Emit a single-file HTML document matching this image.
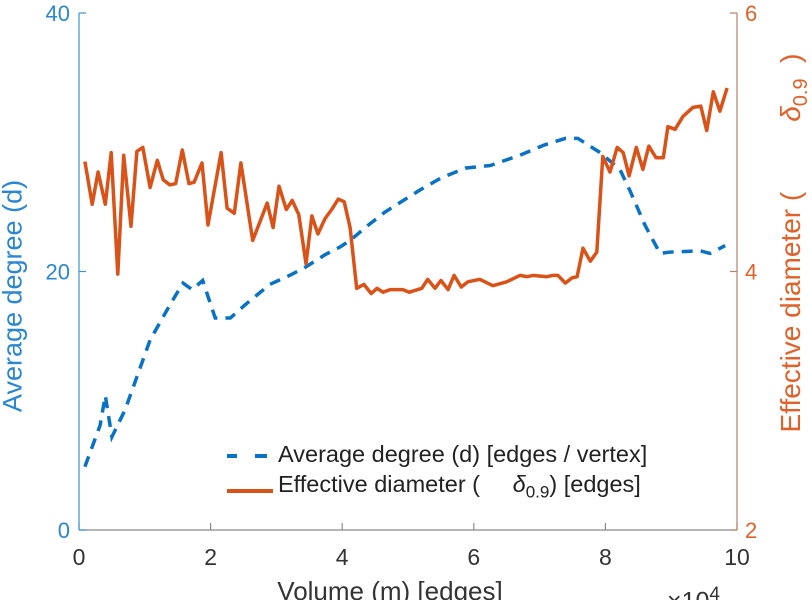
<!DOCTYPE html>
<html><head><meta charset="utf-8"><style>
body{margin:0;background:#fff;overflow:hidden;}
svg{display:block;font-family:"Liberation Sans",sans-serif;}
</style></head><body>
<svg id="chart" width="812" height="600"></svg>
<script>
const xTicks=[0,2,4,6,8,10];
const leftTicks=[0,20,40];
const rightTicks=[2,4,6];
const degX=[0.09,0.32,0.40,0.5,0.7,1.08,1.38,1.58,1.72,1.88,2.07,2.3,2.52,2.9,3.2,3.43,3.74,3.97,4.12,4.35,4.65,5.18,5.49,5.87,6.25,6.7,7.08,7.39,7.58,7.92,8.22,8.37,8.6,8.83,8.98,9.44,9.59,9.82];
const degY=[4.9,8.1,10.4,7.2,9.3,14.7,17.4,19.1,18.6,19.3,16.4,16.4,17.4,19.0,19.7,20.3,21.3,21.9,22.4,23.4,24.6,26.3,27.2,28.0,28.2,29.0,29.8,30.3,30.3,29.2,27.9,26.3,23.6,21.4,21.5,21.6,21.4,22.0];
const diaX=[0.09,0.20,0.29,0.40,0.49,0.59,0.68,0.79,0.88,0.97,1.08,1.19,1.28,1.38,1.47,1.57,1.67,1.75,1.87,1.96,2.16,2.25,2.36,2.46,2.64,2.86,2.95,3.04,3.15,3.24,3.34,3.45,3.54,3.63,3.74,3.84,3.94,4.03,4.12,4.22,4.33,4.44,4.53,4.62,4.73,4.92,5.02,5.21,5.30,5.41,5.50,5.61,5.70,5.81,5.91,6.09,6.29,6.50,6.70,6.81,6.90,7.11,7.20,7.28,7.39,7.49,7.57,7.66,7.77,7.87,7.96,8.07,8.18,8.27,8.36,8.47,8.57,8.66,8.77,8.88,8.95,9.06,9.18,9.33,9.45,9.54,9.64,9.74,9.85];
const diaY=[4.85,4.52,4.77,4.52,4.92,3.98,4.90,4.35,4.93,4.96,4.65,4.86,4.71,4.67,4.68,4.94,4.68,4.69,4.84,4.36,4.92,4.49,4.45,4.84,4.24,4.53,4.34,4.66,4.48,4.55,4.44,4.06,4.43,4.29,4.41,4.48,4.56,4.54,4.34,3.87,3.90,3.83,3.87,3.84,3.86,3.86,3.84,3.87,3.94,3.87,3.93,3.86,3.97,3.88,3.92,3.94,3.89,3.92,3.97,3.96,3.97,3.96,3.97,3.97,3.91,3.95,3.96,4.18,4.08,4.15,4.89,4.77,4.96,4.92,4.74,4.96,4.79,4.97,4.88,4.88,5.12,5.10,5.20,5.27,5.28,5.09,5.39,5.24,5.42];

const L=79,R=737,T=13,B=530;
const sx=v=>L+(v-0)/(10-0)*(R-L);
const syL=v=>B-(v-0)/(40-0)*(B-T);
const syR=v=>B-(v-2)/(6-2)*(B-T);
const NS='http://www.w3.org/2000/svg';
const svg=document.getElementById('chart');
function mk(tag,attrs,parent){const e=document.createElementNS(NS,tag);for(const k in attrs)e.setAttribute(k,attrs[k]);(parent||svg).appendChild(e);return e;}

let e=mk('line',{x1:L,y1:B,x2:R,y2:B,stroke:'#8a8a8a','stroke-width':1.2});


xTicks.forEach(t=>{
  let tk=mk('line',{x1:sx(t),y1:B,x2:sx(t),y2:B-7,stroke:'#8a8a8a','stroke-width':1.2});
  
  
  let tx=mk('text',{x:sx(t),y:B+35,'text-anchor':'middle','font-size':23,fill:'#333'});
  tx.textContent=t;
  
  
});
e=mk('line',{x1:L,y1:T,x2:L,y2:B,stroke:'#3d93d6','stroke-width':1.2});


leftTicks.forEach(t=>{
  let tk=mk('line',{x1:L,y1:syL(t),x2:L+7,y2:syL(t),stroke:'#3d93d6','stroke-width':1.2});
  
  
  let tx=mk('text',{x:L-9,y:syL(t)+8,'text-anchor':'end','font-size':22,fill:'#2b87d1'});
  tx.textContent=t;
  
  
});
e=mk('line',{x1:R,y1:T,x2:R,y2:B,stroke:'#b4826c','stroke-width':1.2});


rightTicks.forEach(t=>{
  let tk=mk('line',{x1:R,y1:syR(t),x2:R-7,y2:syR(t),stroke:'#b4826c','stroke-width':1.2});
  
  
  let tx=mk('text',{x:R+8,y:syR(t)+8,'text-anchor':'start','font-size':22,fill:'#e0622a'});
  tx.textContent=t;
  
  
});
let dp=degX.map((x,i)=>sx(x).toFixed(1)+','+syL(degY[i]).toFixed(1)).join(' ');
e=mk('polyline',{points:dp,fill:'none',stroke:'#0a72c4','stroke-width':3.5,'stroke-dasharray':'11 8'});


let op=diaX.map((x,i)=>sx(x).toFixed(1)+','+syR(diaY[i]).toFixed(1)).join(' ');
e=mk('polyline',{points:op,fill:'none',stroke:'#d95319','stroke-width':3.5,'stroke-linejoin':'round'});


</script>
<div style="position:absolute;left:0;top:0;width:812px;height:600px;overflow:hidden;pointer-events:none;font-family:'Liberation Sans',sans-serif;">
  <div>
    <div style="position:absolute;left:225px;top:441px;white-space:nowrap;">
      <div style="position:absolute;left:2px;top:13px;width:10px;height:3.5px;background:#0a72c4;"></div>
      <div style="position:absolute;left:30px;top:13px;width:12px;height:3.5px;background:#0a72c4;"></div>
      <span style="position:absolute;left:53px;top:0;font-size:23.5px;color:#222;">Average degree (d) [edges / vertex]</span>
    </div>
    <div style="position:absolute;left:225px;top:471px;white-space:nowrap;">
      <div style="position:absolute;left:2px;top:18px;width:46px;height:3.5px;background:#d95319;"></div>
      <span style="position:absolute;left:53px;top:0;font-size:23.5px;color:#222;">Effective diameter ( &nbsp;&nbsp;&nbsp;&nbsp;<i>δ</i><sub style="font-size:17px">0.9</sub>) [edges]</span>
    </div>
  </div>
  <div style="position:absolute;left:0;width:780px;top:576px;text-align:center;font-size:26px;color:#333;">Volume (m) [edges]</div>
  <div style="position:absolute;left:667px;top:584px;font-size:25px;color:#333;">×10<sup style="font-size:19px">4</sup></div>
  <div style="position:absolute;left:13px;top:296px;transform:translate(-50%,-50%) rotate(-90deg);white-space:nowrap;font-size:27px;color:#2b87d1;">Average degree (d)</div>
  <div style="position:absolute;left:794px;top:243px;transform:translate(-50%,-50%) rotate(-90deg);white-space:nowrap;font-size:28px;color:#e0622a;">Effective diameter ( &nbsp;&nbsp;&nbsp;&nbsp;&nbsp;&nbsp;&nbsp;&nbsp;<i>δ</i><sub style="font-size:20px">0.9</sub> &nbsp;)</div>
</div>
</body></html>
